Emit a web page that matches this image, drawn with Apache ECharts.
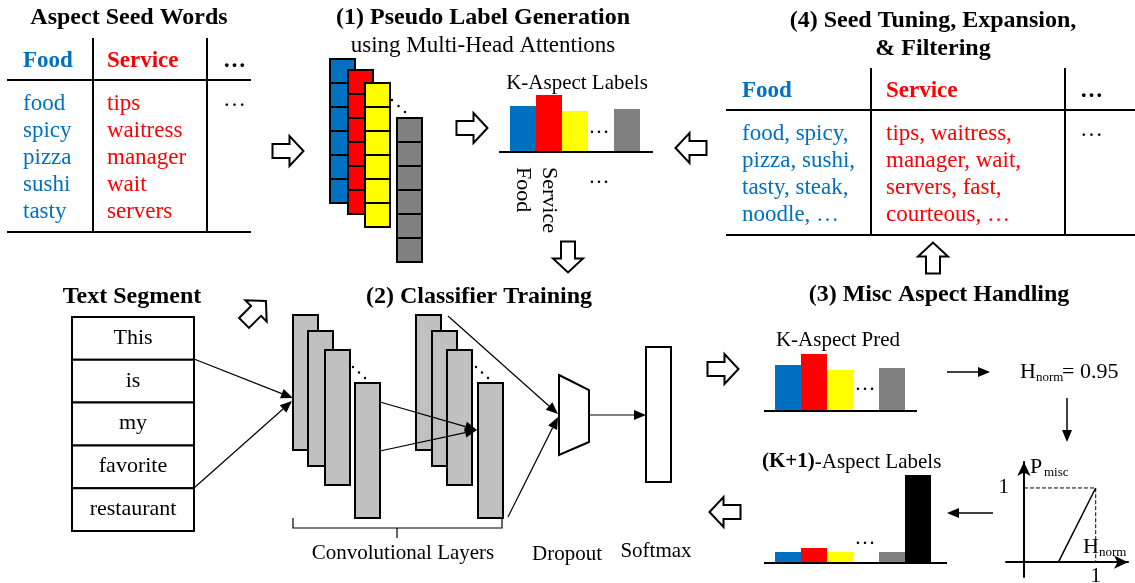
<!DOCTYPE html>
<html>
<head>
<meta charset="utf-8">
<script src="https://cdn.jsdelivr.net/npm/echarts@6/dist/echarts.min.js"></script>
<style>
  html, body { margin: 0; padding: 0; background: #fff; }
  #main { width: 1135px; height: 583px; }
</style>
</head>
<body>
<div id="main"></div>
<script>
// data
const aspectNames = ['Food', 'Service', 'Aspect 3', '…', 'Aspect K']
const aspectColors = ['#0070C0', '#FF0000', '#FFFF00', null, '#808080']
const kLabelValues = [0.46, 0.57, 0.41, '-', 0.43]
const kPredValues = [0.46, 0.57, 0.41, '-', 0.43]
const k1Names = ['Food', 'Service', 'Aspect 3', '…', 'Aspect K', 'Misc']
const k1Colors = ['#0070C0', '#FF0000', '#FFFF00', null, '#808080', '#000000']
const k1Values = [0.11, 0.15, 0.11, '-', 0.11, 0.88]
const seedFood = ['food', 'spicy', 'pizza', 'sushi', 'tasty']
const seedService = ['tips', 'waitress', 'manager', 'wait', 'servers']
const expandFood = ['food, spicy,', 'pizza, sushi,', 'tasty, steak,', 'noodle, …']
const expandService = ['tips, waitress,', 'manager, wait,', 'servers, fast,', 'courteous, …']
const segmentWords = ['This', 'is', 'my', 'favorite', 'restaurant']
const hNorm = '0.95'
const pMiscRamp = [[0.48, 0], [1, 1]]
const pMiscGuide = [[0, 1], [1, 1], [1, 0]]

const SERIF = '"Liberation Serif", "Times New Roman", serif'
const BLUE = '#0070C0'
const RED = '#FF0000'

const chart = echarts.init(document.getElementById('main'))
const els = []

// helpers for the drawing
function txt(x, y, s, size, opt) {
  opt = opt || {}
  els.push({
    type: 'text', x: x, y: y, z: 20,
    style: {
      text: s,
      fill: opt.color || '#000',
      font: (opt.bold ? 'bold ' : '') + size + 'px ' + SERIF,
      textAlign: opt.align || 'center', align: opt.align || 'center',
      textVerticalAlign: 'middle', verticalAlign: 'middle'
    }
  })
}
function line(x1, y1, x2, y2, lw, dash) {
  els.push({ type: 'line', z: 15, shape: { x1: x1, y1: y1, x2: x2, y2: y2 }, style: { stroke: '#000', lineWidth: lw || 2, lineDash: dash || null } })
}
function rect(x, y, w, h, fill) {
  els.push({ type: 'rect', z: 10, shape: { x: x, y: y, width: w, height: h }, style: { fill: fill, stroke: '#000', lineWidth: 2 } })
}
function arrow(x1, y1, x2, y2, lw) {
  const a = Math.atan2(y2 - y1, x2 - x1)
  const c = Math.cos(a), s = Math.sin(a)
  const bx = x2 - 12 * c, by = y2 - 12 * s
  line(x1, y1, bx, by, lw || 1.2)
  els.push({ type: 'polygon', z: 16, shape: { points: [[x2, y2], [bx - 5 * s, by + 5 * c], [bx + 5 * s, by - 5 * c]] }, style: { fill: '#000' } })
}
function hollowArrow(cx, cy, ang) {
  const L = 31, W = 30, S = 14, H = 14
  const pts = [[-L / 2, -S / 2], [L / 2 - H, -S / 2], [L / 2 - H, -W / 2], [L / 2, 0], [L / 2 - H, W / 2], [L / 2 - H, S / 2], [-L / 2, S / 2]]
  const c = Math.cos(ang), s = Math.sin(ang)
  els.push({
    type: 'polygon', z: 15,
    shape: { points: pts.map(p => [cx + p[0] * c - p[1] * s, cy + p[0] * s + p[1] * c]) },
    style: { fill: '#fff', stroke: '#000', lineWidth: 2 }
  })
}
function dots(x1, y1, x2, y2) {
  for (let i = 0; i < 3; i++) {
    els.push({ type: 'circle', z: 15, shape: { cx: x1 + (x2 - x1) * i / 2, cy: y1 + (y2 - y1) * i / 2, r: 1.2 }, style: { fill: '#000' } })
  }
}

// Aspect Seed Words table
txt(129, 18, 'Aspect Seed Words', 24, { bold: true })
line(93, 38, 93, 232)
line(207, 38, 207, 232)
line(7, 80, 251, 80)
line(7, 232, 251, 232)
txt(23, 61, 'Food', 23, { bold: true, color: BLUE, align: 'left' })
txt(107, 61, 'Service', 23, { bold: true, color: RED, align: 'left' })
txt(223, 61, '…', 23, { bold: true, align: 'left' })
seedFood.forEach((w, i) => txt(23, 104 + 27 * i, w, 23, { color: BLUE, align: 'left' }))
seedService.forEach((w, i) => txt(107, 104 + 27 * i, w, 23, { color: RED, align: 'left' }))
txt(223, 100, '…', 23, { align: 'left' })

// (1) Pseudo label generation
txt(483, 18, '(1) Pseudo Label Generation', 24, { bold: true })
txt(483, 46, 'using Multi-Head Attentions', 23)
hollowArrow(288, 151, 0)
const heads = [[330, 59, '#0070C0'], [348, 70, '#FF0000'], [365, 83, '#FFFF00'], [397, 118, '#808080']]
heads.forEach(h => {
  for (let k = 0; k < 6; k++) rect(h[0], h[1] + 24 * k, 25, 24, h[2])
})
dots(392, 100, 405, 112)
hollowArrow(472, 128, 0)
txt(577, 83, 'K-Aspect Labels', 21)
line(499, 152, 653, 152)
txt(599, 127, '…', 21)
txt(599, 177, '…', 21)
hollowArrow(568, 257, Math.PI / 2)

// (4) Seed tuning table
txt(933, 21, '(4) Seed Tuning, Expansion,', 24, { bold: true })
txt(933, 49, '& Filtering', 24, { bold: true })
line(871, 68, 871, 235)
line(1065, 68, 1065, 235)
line(726, 110, 1135, 110)
line(726, 235, 1135, 235)
txt(742, 91, 'Food', 23, { bold: true, color: BLUE, align: 'left' })
txt(886, 91, 'Service', 23, { bold: true, color: RED, align: 'left' })
txt(1080, 91, '…', 23, { bold: true, align: 'left' })
expandFood.forEach((w, i) => txt(742, 134 + 27 * i, w, 23, { color: BLUE, align: 'left' }))
expandService.forEach((w, i) => txt(886, 134 + 27 * i, w, 23, { color: RED, align: 'left' }))
txt(1080, 130, '…', 23, { align: 'left' })
hollowArrow(691, 148, Math.PI)
hollowArrow(933, 258, -Math.PI / 2)

// Text segment
txt(132, 297, 'Text Segment', 24, { bold: true })
segmentWords.forEach((w, i) => {
  rect(72, 317 + 42.8 * i, 122, 42.8, '#fff')
  txt(133, 338 + 42.8 * i, w, 22)
})
hollowArrow(255, 312, -Math.PI / 4)

// (2) Classifier training
txt(479, 297, '(2) Classifier Training', 24, { bold: true })
const convLayers = [[293, 315], [308, 331], [325, 350], [355, 383], [416, 315], [432, 331], [447, 350], [478, 383]]
convLayers.forEach(c => rect(c[0], c[1], 25, 135, '#C0C0C0'))
dots(353, 367, 365, 378)
dots(476, 367, 488, 378)
arrow(194, 359, 293, 398)
arrow(194, 488, 292, 401)
arrow(380, 402, 477, 430)
arrow(380, 451, 477, 430)
arrow(448, 316, 558, 414)
arrow(508, 517, 558, 417)
els.push({ type: 'polygon', z: 10, shape: { points: [[559, 375], [589, 390], [589, 442], [559, 455]] }, style: { fill: '#fff', stroke: '#000', lineWidth: 2 } })
arrow(589, 415, 646, 415)
rect(646, 347, 25, 135, '#fff')
els.push({ type: 'polyline', z: 15, shape: { points: [[293, 518], [293, 528], [502, 528], [502, 518]] }, style: { stroke: '#000', lineWidth: 1.2, fill: 'none' } })
line(397, 528, 397, 538, 1.2)
txt(403, 553, 'Convolutional Layers', 21)
txt(567, 554, 'Dropout', 21)
txt(656, 551, 'Softmax', 21)

// (3) Misc aspect handling
txt(939, 295, '(3) Misc Aspect Handling', 24, { bold: true })
hollowArrow(723, 369, 0)
hollowArrow(725, 512, Math.PI)
txt(838, 340, 'K-Aspect Pred', 21)
line(764, 411, 917, 411)
txt(865, 384, '…', 21)
arrow(947, 372, 990, 372, 1.5)
txt(1020, 372, 'H', 22, { align: 'left' })
txt(1036, 378, 'norm', 13, { align: 'left' })
txt(1062, 372, '= ' + hNorm, 22, { align: 'left' })
arrow(1067, 398, 1067, 442, 1.5)
arrow(993, 513, 947, 513, 1.5)
els.push({
  type: 'text', x: 762, y: 462, z: 20,
  style: {
    text: '{b|(K+1)}{r|-Aspect Labels}',
    textAlign: 'left', align: 'left', textVerticalAlign: 'middle', verticalAlign: 'middle',
    rich: {
      b: { font: 'bold 21px ' + SERIF, fill: '#000' },
      r: { font: '21px ' + SERIF, fill: '#000' }
    }
  }
})
line(764, 563, 947, 563)
txt(865, 538, '…', 21)
txt(1030, 467, 'P', 22, { align: 'left' })
txt(1044, 473, 'misc', 13, { align: 'left' })
txt(1083, 547, 'H', 22, { align: 'left' })
txt(1099, 553, 'norm', 13, { align: 'left' })

function barData(values, colors) {
  return values.map((v, i) => ({ value: v, itemStyle: { color: colors[i] || '#fff' } }))
}
function catAxis(idx, names, withLabels) {
  return {
    type: 'category', gridIndex: idx, data: names,
    axisLine: { show: false }, axisTick: { show: false },
    axisLabel: {
      show: withLabels, rotate: -90, margin: 15, interval: 0,
      fontSize: 22, fontFamily: SERIF, color: '#000',
      formatter: (v, i) => (i < 2 ? v : '')
    }
  }
}
function hiddenY(idx, max) {
  return { type: 'value', gridIndex: idx, min: 0, max: max, show: false }
}
function grid(left, top, width, height) {
  return { left: left, top: top, width: width, height: height, containLabel: false, outerBoundsMode: 'none' }
}
const axisBlack = { show: true, onZero: true, symbol: ['none', 'arrow'], symbolSize: [10, 14], lineStyle: { color: '#000', width: 2 } }

chart.setOption({
  animation: false,
  backgroundColor: '#fff',
  grid: [
    grid(510, 92, 130, 60),
    grid(775, 351, 130, 60),
    grid(775, 473, 156, 90),
    grid(1006, 462, 122, 115)
  ],
  xAxis: [
    catAxis(0, aspectNames, true),
    catAxis(1, aspectNames, false),
    catAxis(2, k1Names, false),
    {
      type: 'value', gridIndex: 3, min: -0.25, max: 1.45, interval: 0.25,
      axisLine: axisBlack, axisTick: { show: false }, splitLine: { show: false },
      axisLabel: { margin: -11, fontSize: 21, fontFamily: SERIF, color: '#000', formatter: v => (Math.abs(v - 1) < 1e-6 ? '1' : '') }
    }
  ],
  yAxis: [
    hiddenY(0, 0.6),
    hiddenY(1, 0.6),
    hiddenY(2, 0.9),
    {
      type: 'value', gridIndex: 3, min: -0.2, max: 1.35, interval: 0.2,
      axisLine: axisBlack, axisTick: { show: false }, splitLine: { show: false },
      axisLabel: { margin: -3, fontSize: 21, fontFamily: SERIF, color: '#000', formatter: v => (Math.abs(v - 1) < 1e-6 ? '1' : '') }
    }
  ],
  series: [
    { type: 'bar', xAxisIndex: 0, yAxisIndex: 0, barCategoryGap: '0%', data: barData(kLabelValues, aspectColors) },
    { type: 'bar', xAxisIndex: 1, yAxisIndex: 1, barCategoryGap: '0%', data: barData(kPredValues, aspectColors) },
    { type: 'bar', xAxisIndex: 2, yAxisIndex: 2, barCategoryGap: '0%', data: barData(k1Values, k1Colors) },
    { type: 'line', xAxisIndex: 3, yAxisIndex: 3, data: pMiscRamp, showSymbol: false, lineStyle: { color: '#000', width: 1.5 } },
    { type: 'line', xAxisIndex: 3, yAxisIndex: 3, data: pMiscGuide, showSymbol: false, lineStyle: { color: '#000', width: 1, type: 'dashed' } }
  ],
  graphic: { elements: els }
})
</script>
</body>
</html>
